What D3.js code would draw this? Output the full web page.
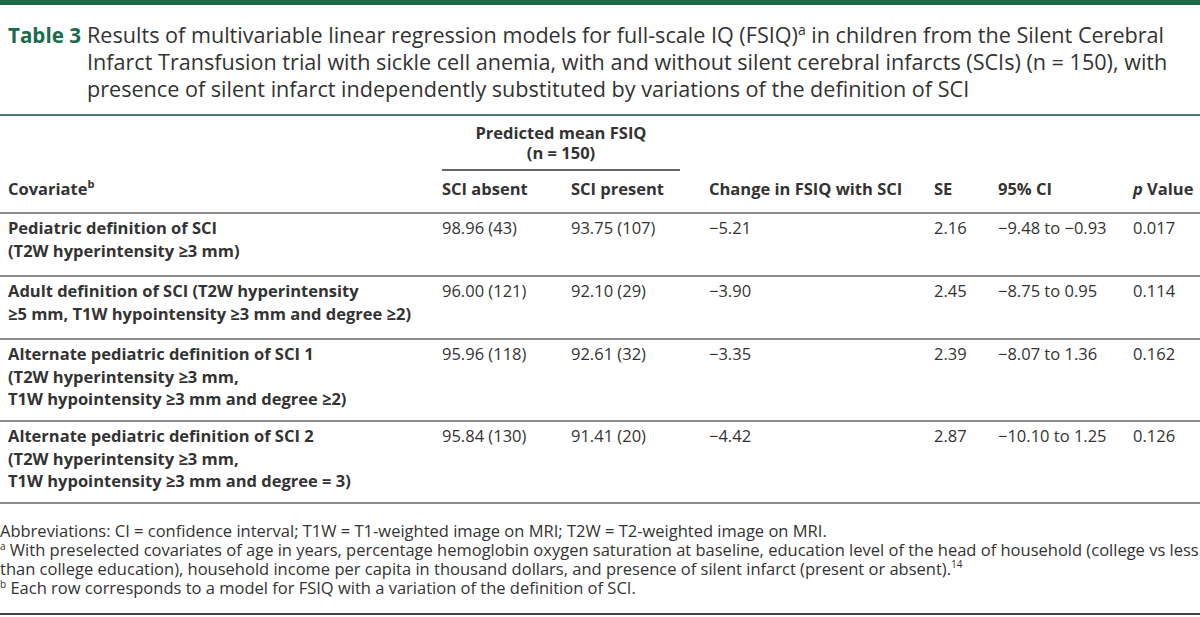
<!DOCTYPE html>
<html><head><meta charset="utf-8">
<script src="https://cdn.jsdelivr.net/npm/d3@7/dist/d3.min.js"></script>
<style>
html,body{margin:0;padding:0;background:#fff;}
svg{display:block;font-family:"Open Sans","Noto Sans",sans-serif;}
</style></head>
<body><svg id="c" width="1200" height="617"></svg>
<script>
// ---- data ----
const covariateLines = [
  ["Pediatric definition of SCI", "(T2W hyperintensity ≥3 mm)"],
  ["Adult definition of SCI (T2W hyperintensity", "≥5 mm, T1W hypointensity ≥3 mm and degree ≥2)"],
  ["Alternate pediatric definition of SCI 1", "(T2W hyperintensity ≥3 mm,", "T1W hypointensity ≥3 mm and degree ≥2)"],
  ["Alternate pediatric definition of SCI 2", "(T2W hyperintensity ≥3 mm,", "T1W hypointensity ≥3 mm and degree = 3)"]
];
const absentMean = [98.96, 96.00, 95.96, 95.84];
const absentN = [43, 121, 118, 130];
const presentMean = [93.75, 92.10, 92.61, 91.41];
const presentN = [107, 29, 32, 20];
const changeFSIQ = [-5.21, -3.90, -3.35, -4.42];
const seValues = [2.16, 2.45, 2.39, 2.87];
const ciLow = [-9.48, -8.75, -8.07, -10.10];
const ciHigh = [-0.93, 0.95, 1.36, 1.25];
const pValues = [0.017, 0.114, 0.162, 0.126];
const columnKeys = ["cov", "absent", "present", "change", "se", "ci", "p"];
const headerLabels = ["Covariate", "SCI absent", "SCI present", "Change in FSIQ with SCI", "SE", "95% CI", "Value"];
const titleLines = [
  "Results of multivariable linear regression models for full-scale IQ (FSIQ)",
  "Infarct Transfusion trial with sickle cell anemia, with and without silent cerebral infarcts (SCIs) (n = 150), with",
  "presence of silent infarct independently substituted by variations of the definition of SCI"
];
const footnotes = [
  {sup: "", text: "Abbreviations: CI = confidence interval; T1W = T1-weighted image on MRI; T2W = T2-weighted image on MRI."},
  {sup: "a", text: " With preselected covariates of age in years, percentage hemoglobin oxygen saturation at baseline, education level of the head of household (college vs less"},
  {sup: "", text: "than college education), household income per capita in thousand dollars, and presence of silent infarct (present or absent).", endSup: "14"},
  {sup: "b", text: " Each row corresponds to a model for FSIQ with a variation of the definition of SCI."}
];

// ---- layout ----
const W = 1200, H = 617;
const green = "#1b6b4b", ink = "#333";
const fs = 16.5;
const fmt2 = d => d.toFixed(2).replace("-", "\u2212");
const fmt3 = d => d.toFixed(3);
const svg = d3.select("#c");
const x = d3.scaleOrdinal().domain(columnKeys).range([8, 442, 571, 709, 934, 998, 1133]);

// top bar
svg.append("rect").attr("x", 0).attr("y", 0).attr("width", W).attr("height", 5).attr("fill", green);

// title
const title = svg.append("g").attr("font-size", 21.6).attr("fill", ink);
title.append("text").attr("x", 8).attr("y", 43).attr("font-weight", 700).attr("font-size", 20.6).attr("fill", green).text("Table 3");
titleLines.forEach((t, i) => {
  const tx = title.append("text").attr("x", 87).attr("y", 43 + i * 27);
  tx.append("tspan").text(t);
  if (i === 0) {
    tx.append("tspan").attr("dy", -8).attr("font-size", 14).text("a");
    tx.append("tspan").attr("dy", 8).text(" in children from the Silent Cerebral");
  }
});

// rules
const rule = (y, x1, x2, color, w) => svg.append("line").attr("x1", x1).attr("x2", x2).attr("y1", y).attr("y2", y).attr("stroke", color).attr("stroke-width", w);
rule(115, 0, W, "#4d7d6b", 2);

// spanning header
const hdr = svg.append("g").attr("font-size", fs).attr("font-weight", 700).attr("fill", ink);
hdr.append("text").attr("x", 561).attr("y", 139).attr("text-anchor", "middle").text("Predicted mean FSIQ");
hdr.append("text").attr("x", 561).attr("y", 159).attr("text-anchor", "middle").text("(n = 150)");
rule(170, 442, 680, ink, 1.5);

// column headers
columnKeys.forEach((k, i) => {
  const t = hdr.append("text").attr("x", x(k)).attr("y", 195);
  if (k === "p") {
    t.append("tspan").attr("font-style", "italic").text("p");
    t.append("tspan").text(" " + headerLabels[i]);
  } else {
    t.append("tspan").text(headerLabels[i]);
    if (k === "cov") t.append("tspan").attr("dy", -7).attr("font-size", 11).text("b");
  }
});
rule(213, 0, W, "#666", 1.5);

// body rows
const lineH = 22.5;
let y0 = 213;
const body = svg.append("g").attr("font-size", fs).attr("fill", ink);
covariateLines.forEach((lines, r) => {
  const h = Math.max(63, 16 + lineH * (lines.length - 1) + 21);
  const firstBase = y0 + 15 + 6;
  lines.forEach((ln, j) => {
    body.append("text").attr("x", x("cov")).attr("y", firstBase + j * lineH).attr("font-weight", 700).text(ln);
  });
  const vals = {
    absent: `${fmt2(absentMean[r])} (${absentN[r]})`,
    present: `${fmt2(presentMean[r])} (${presentN[r]})`,
    change: fmt2(changeFSIQ[r]),
    se: fmt2(seValues[r]),
    ci: `${fmt2(ciLow[r])} to ${fmt2(ciHigh[r])}`,
    p: fmt3(pValues[r])
  };
  Object.keys(vals).forEach(k => {
    body.append("text").attr("x", x(k)).attr("y", firstBase).text(vals[k]);
  });
  y0 += h;
  rule(y0, 0, W, "#666", 1.5);
});

// footnotes
const fn = svg.append("g").attr("font-size", fs).attr("fill", ink);
footnotes.forEach((f, i) => {
  const t = fn.append("text").attr("x", 0).attr("y", 537 + i * 19);
  if (f.sup) t.append("tspan").attr("font-size", 10).attr("dy", -6).text(f.sup);
  t.append("tspan").attr("dy", f.sup ? 6 : 0).text(f.text);
  if (f.endSup) t.append("tspan").attr("font-size", 10).attr("dy", -7).text(f.endSup);
});
rule(614, 0, W, "#444", 2);
</script></body></html>
